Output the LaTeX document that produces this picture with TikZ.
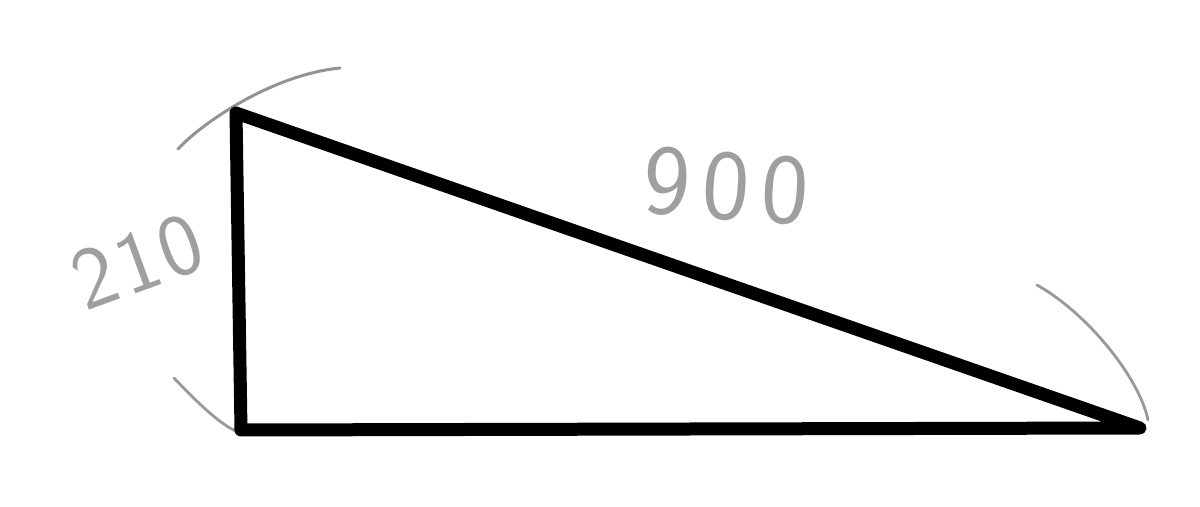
\documentclass[tikz,border=0pt]{standalone}
\usepackage{tikz}

\begin{document}
\begin{tikzpicture}[x=0.5pt,y=-0.5pt]
          \useasboundingbox (0,0) rectangle (1200,507);
          \coordinate (top)    at ( 236, 113);
          \coordinate (corner) at ( 241, 430);
          \coordinate (tip)    at (1140, 428);
          %% pencil marks
          \coordinate (a1) at ( 178, 149);
          \coordinate (a2) at ( 340,  68);
          \coordinate (b1) at ( 174, 378);
          \coordinate (b2) at ( 238, 432);
          \coordinate (c1) at (1037, 285);
          \coordinate (c2) at (1148, 420);
          \draw[gray!85, line width=1.5pt, line cap=round]
            (a1) .. controls (200,125) and (270,75) .. (a2);
          \draw[gray!80, line width=1.4pt, line cap=round]
            (b1) .. controls (195,400) and (220,425) .. (b2);
          \draw[gray!80, line width=1.4pt, line cap=round]
            (c1) .. controls (1090,315) and (1140,380) .. (c2);
          \node[gray!75, rotate=20] (short) at (138, 262)
            {\sffamily\fontsize{44}{44}\selectfont 2\kern2pt1\kern2pt0};
          \node[gray!75, rotate=-4] (long) at (726, 186)
            {\sffamily\fontsize{50}{50}\selectfont 9\kern6pt0\kern6pt0};
          \draw[line width=6.5pt, line cap=round, line join=round]
            (top) -- (corner) -- (tip) -- (top);
        \end{tikzpicture}
\end{document}
